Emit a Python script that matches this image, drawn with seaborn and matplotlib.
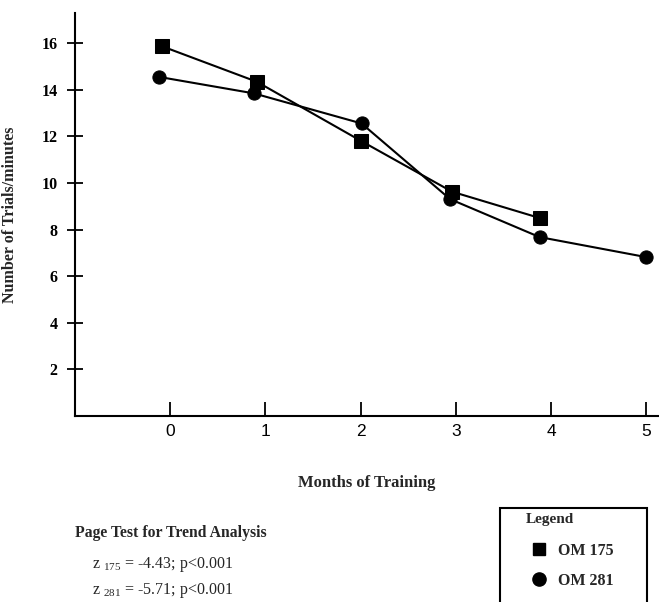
import numpy as np
import pandas as pd
import matplotlib
matplotlib.use("Agg")
import matplotlib.pyplot as plt
from matplotlib.lines import Line2D
from matplotlib.patches import Rectangle
import seaborn as sns

# ---- data ----
months_175 = [-0.09, 0.91, 2.00, 2.96, 3.88]
trials_175 = [15.88, 14.35, 11.82, 9.63, 8.50]
months_281 = [-0.12, 0.88, 2.01, 2.94, 3.88, 5.00]
trials_281 = [14.56, 13.85, 12.56, 9.31, 7.68, 6.82]
series_names = ["OM 175", "OM 281"]
x_ticks = [0, 1, 2, 3, 4, 5]
y_ticks = [2, 4, 6, 8, 10, 12, 14, 16]
stats_lines = [("175", "-4.43", "p<0.001"), ("281", "-5.71", "p<0.001")]

df = pd.DataFrame({
    "month": months_175 + months_281,
    "trials": trials_175 + trials_281,
    "series": [series_names[0]] * len(months_175) + [series_names[1]] * len(months_281),
})

sns.set_style("ticks")
plt.rcParams["font.family"] = ["Liberation Serif", "DejaVu Serif"]
plt.rcParams["mathtext.fontset"] = "custom"
plt.rcParams["mathtext.rm"] = "Liberation Serif"
plt.rcParams["mathtext.it"] = "Liberation Serif:italic"
plt.rcParams["mathtext.bf"] = "Liberation Serif:bold"

W, H = 659, 602
fig = plt.figure(figsize=(W / 100, H / 100), dpi=100)
ax_left, ax_right = 75, 659
ax_top, ax_bot = 13.3, 415.9
ax = fig.add_axes([ax_left / W, 1 - ax_bot / H, (ax_right - ax_left) / W, (ax_bot - ax_top) / H])

sns.lineplot(data=df, x="month", y="trials", hue="series", style="series",
             markers={"OM 175": "s", "OM 281": "o"}, dashes=False,
             palette={"OM 175": "black", "OM 281": "black"},
             markersize=9.5, markeredgecolor="black", linewidth=1.5,
             sort=False, legend=False, ax=ax, estimator=None)

ax.set_xlim(-1.0, 5.135)
ax.set_ylim(0, 17.29)
ax.set_xticks(x_ticks)
ax.set_xticklabels([str(t) for t in x_ticks], fontfamily="Liberation Sans", fontsize=12.5)
ax.set_yticks(y_ticks)
ax.set_yticklabels([str(t) for t in y_ticks], fontweight="bold", fontsize=11.5)
ax.tick_params(axis="x", bottom=True, direction="in", length=10, width=1.3, pad=6,
               colors="black")
ax.tick_params(axis="y", left=True, direction="inout", length=11, width=1.3, pad=7,
               colors="black")

for s in ["top", "right"]:
    ax.spines[s].set_visible(False)
for s in ["left", "bottom"]:
    ax.spines[s].set_color("black")
    ax.spines[s].set_linewidth(1.5)

ax.set_xlabel("Months of Training", fontsize=12, fontweight="bold", labelpad=26)
ax.set_ylabel("Number of Trials/minutes", fontsize=11.5, fontweight="bold")
ax.yaxis.set_label_coords((18 - ax_left) / (ax_right - ax_left), 0.5)

# Page test annotation
fig.text(75 / W, 1 - 533 / H, "Page Test for Trend Analysis", fontsize=11.3,
         fontweight="bold", ha="left", va="center")
for i, (sub, z, p) in enumerate(stats_lines):
    fig.text(92 / W, 1 - (565 + 25 * i) / H, r"z $_{%s}$ = %s; %s" % (sub, z, p),
             fontsize=11.5, ha="left", va="center")

# Legend box
fig.add_artist(Rectangle((500 / W, -0.05), 147 / W, (602 - 508) / H + 0.05,
                         transform=fig.transFigure, fill=False, lw=1.5,
                         edgecolor="black", clip_on=False))
fig.text(526 / W, 1 - 520 / H, "Legend", fontsize=11, fontweight="bold",
         ha="left", va="center")
handles = [Line2D([], [], marker="s", color="black", linestyle="none", markersize=9),
           Line2D([], [], marker="o", color="black", linestyle="none", markersize=9.5)]
fig.legend(handles, series_names, loc="upper left",
           bbox_to_anchor=(531 / W, 1 - 543 / H), frameon=False,
           prop={"weight": "bold", "size": 11.5}, handlelength=1.0,
           handletextpad=0.7, borderpad=0, borderaxespad=0, labelspacing=0.85)

fig.savefig("out.png", dpi=100)
